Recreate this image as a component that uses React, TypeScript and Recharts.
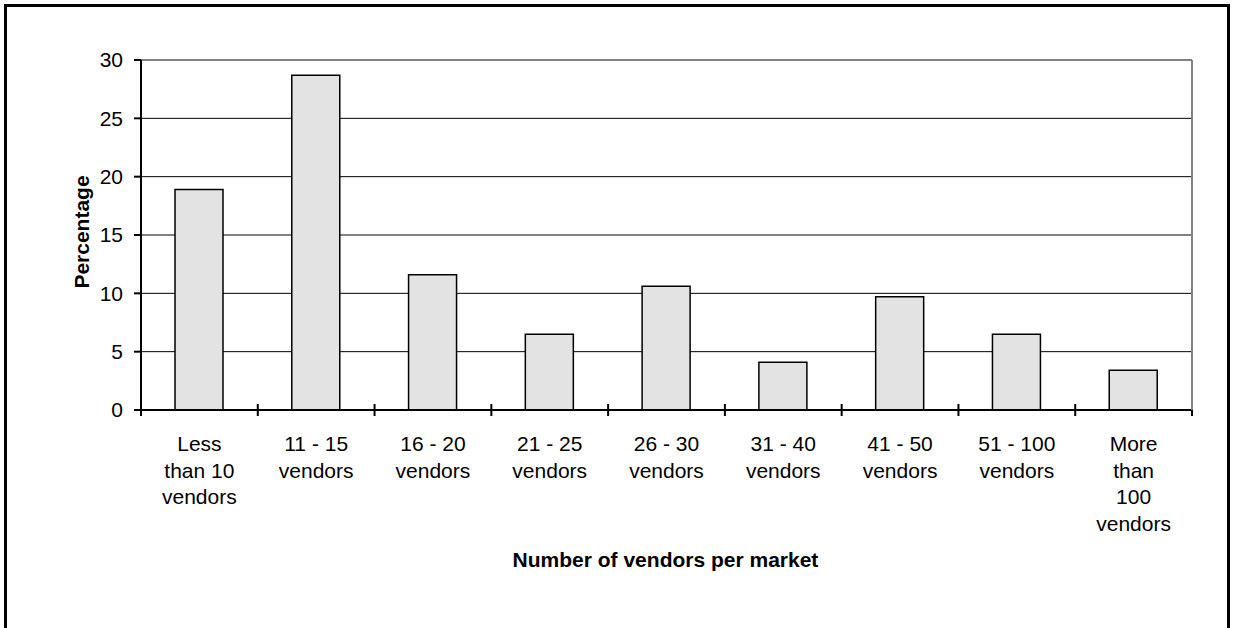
import React from "react";
import { BarChart, Bar, XAxis, YAxis, CartesianGrid, ReferenceLine } from "recharts";

// market size classes (line breaks as shown under the axis)
const categories = [
  "Less\nthan 10\nvendors",
  "11 - 15\nvendors",
  "16 - 20\nvendors",
  "21 - 25\nvendors",
  "26 - 30\nvendors",
  "31 - 40\nvendors",
  "41 - 50\nvendors",
  "51 - 100\nvendors",
  "More\nthan\n100\nvendors",
];

const percentages = [18.9, 28.7, 11.6, 6.5, 10.6, 4.1, 9.7, 6.5, 3.4];

const yTicks = [0, 5, 10, 15, 20, 25, 30];
const gridValues = [5, 10, 15, 20, 25];

const data = categories.map((name, i) => ({ name, value: percentages[i] }));

const FONT = "'Liberation Sans', Arial, sans-serif";
const W = 1235;
const H = 628;
const PLOT_LEFT = 141;
const PLOT_RIGHT = 1192;
const PLOT_TOP = 60;
const PLOT_BOTTOM = 410;
const BAND = (PLOT_RIGHT - PLOT_LEFT) / categories.length;

// category label plus the boundary tick marks that cross the axis
const CategoryTick = (props: any) => {
  const { x, y, payload, index } = props;
  const half = payload?.offset ?? BAND / 2;
  const lines = String(payload.value).split("\n");
  const isLast = index === categories.length - 1;
  return (
    <g>
      <line x1={x - half} x2={x - half} y1={y - 6} y2={y + 6} stroke="#000" strokeWidth={2} />
      {isLast && (
        <>
          <line x1={x + half} x2={x + half} y1={y - 6} y2={y + 6} stroke="#000" strokeWidth={2} />
          {/* right edge of the plot frame */}
          <line
            x1={x + half}
            x2={x + half}
            y1={y}
            y2={y - (PLOT_BOTTOM - PLOT_TOP)}
            stroke="#808080"
            strokeWidth={2}
          />
        </>
      )}
      <text x={x} y={y + 41} textAnchor="middle" fontSize={21} fontFamily={FONT} fill="#000">
        {lines.map((l, i) => (
          <tspan key={i} x={x} dy={i === 0 ? 0 : 26.5}>
            {l}
          </tspan>
        ))}
      </text>
    </g>
  );
};

export default function App() {
  return (
    <div
      style={{
        position: "absolute",
        left: 0,
        top: 0,
        width: W,
        height: H,
        overflow: "hidden",
        background: "#fff",
        fontFamily: FONT,
      }}
    >
      <div
        style={{
          position: "absolute",
          left: 4,
          top: 4,
          width: 1220,
          height: 700,
          border: "3px solid #000",
        }}
      />
      <div style={{ position: "absolute", left: 0, top: 0 }}>
        <BarChart
          width={W}
          height={H}
          data={data}
          margin={{ top: PLOT_TOP, right: W - PLOT_RIGHT, bottom: 0, left: 0 }}
          barSize={48}
        >
          <CartesianGrid
            vertical={false}
            horizontalValues={gridValues}
            stroke="#000"
            strokeWidth={1}
          />
          <ReferenceLine y={30} stroke="#808080" strokeWidth={2} />
          <XAxis
            dataKey="name"
            height={H - PLOT_BOTTOM}
            interval={0}
            tickSize={0}
            tickMargin={0}
            tickLine={false}
            axisLine={{ stroke: "#000", strokeWidth: 2 }}
            tick={<CategoryTick />}
          />
          <YAxis
            width={PLOT_LEFT}
            domain={[0, 30]}
            ticks={yTicks}
            interval={0}
            tickSize={7}
            tickMargin={11}
            tickLine={{ stroke: "#000", strokeWidth: 2 }}
            axisLine={{ stroke: "#000", strokeWidth: 2 }}
            tick={{ fill: "#000", fontSize: 21, fontFamily: FONT }}
          />
          <Bar
            dataKey="value"
            fill="#e3e3e3"
            stroke="#000"
            strokeWidth={1.5}
            isAnimationActive={false}
          />
        </BarChart>
      </div>
      <div
        style={{
          position: "absolute",
          left: 0,
          top: 548,
          width: PLOT_LEFT + PLOT_RIGHT - 2,
          textAlign: "center",
          fontSize: 21,
          fontWeight: "bold",
          color: "#000",
          whiteSpace: "nowrap",
        }}
      >
        Number of vendors per market
      </div>
      <div
        style={{
          position: "absolute",
          left: 82,
          top: 232,
          transform: "translate(-50%, -50%) rotate(-90deg)",
          fontSize: 21,
          fontWeight: "bold",
          color: "#000",
          whiteSpace: "nowrap",
        }}
      >
        Percentage
      </div>
    </div>
  );
}
